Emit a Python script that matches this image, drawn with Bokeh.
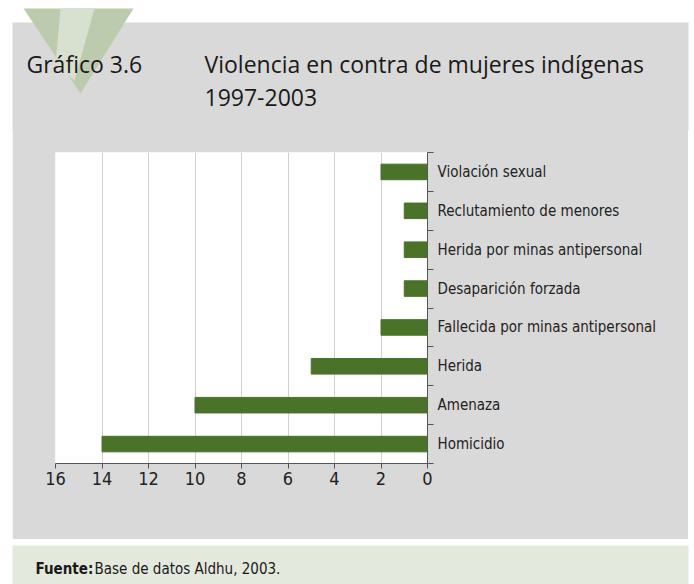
from bokeh.plotting import figure
from bokeh.layouts import column
from bokeh.models import Label, FixedTicker, LinearAxis, Range1d
from bokeh.embed import file_html
from bokeh.resources import INLINE

# ---- data ----
categories = ["Violación sexual", "Reclutamiento de menores",
              "Herida por minas antipersonal", "Desaparición forzada",
              "Fallecida por minas antipersonal", "Herida", "Amenaza", "Homicidio"]
values = [2, 1, 1, 1, 2, 5, 10, 14]
x_ticks = [0, 2, 4, 6, 8, 10, 12, 14, 16]

title_label = "Gráfico 3.6"
title_lines = ["Violencia en contra de mujeres indígenas", "1997-2003"]
source_bold = "Fuente:"
source_text = "Base de datos Aldhu, 2003."

n = len(categories)
ypos = [n - 0.5 - i for i in range(n)]

W = 694
GRAY = "#d9d9d9"
narrow = "DejaVu Sans Condensed"
tfont = "Open Sans"

def deco_fig(h, border):
    f = figure(width=W, height=h, output_backend="svg", toolbar_location=None,
               x_range=Range1d(0, W), y_range=Range1d(h, 0),
               x_axis_location=None, y_axis_location=None,
               min_border=0, background_fill_color="white",
               border_fill_color=border, outline_line_color=None,
               frame_align=False)
    f.xgrid.visible = False
    f.ygrid.visible = False
    return f

# ---- header ----
HH = 130
head = deco_fig(HH, GRAY)
head.quad(left=12, right=688, top=22, bottom=HH + 3, color=GRAY, line_color=None)
head.patch([23, 133, 80], [8, 8, 93], color="#bccbae", line_color=None)
head.patch([60, 94, 74, 55], [8, 8, 80, 64], color="#d8e0cf", line_color=None)
head.add_layout(Label(x=26, y=63, text=title_label, text_font=tfont,
                      text_font_size="23px", text_color="#1a1a1a",
                      text_baseline="alphabetic"))
head.add_layout(Label(x=204, y=63, text=title_lines[0], text_font=tfont,
                      text_font_size="23px", text_color="#1a1a1a",
                      text_baseline="alphabetic"))
head.add_layout(Label(x=204, y=97, text=title_lines[1], text_font=tfont,
                      text_font_size="23px", text_color="#1a1a1a",
                      text_baseline="alphabetic"))

# ---- chart (overlaps header by 2px to hide the seam) ----
CH = 411
p = figure(width=676, height=CH, output_backend="svg", toolbar_location=None,
           x_range=Range1d(16, 0), y_range=Range1d(0, n),
           y_axis_location=None, x_axis_location=None,
           min_border_left=43, min_border_right=261,
           min_border_top=24, min_border_bottom=76,
           background_fill_color="white", border_fill_color=GRAY,
           outline_line_color=None, margin=(-2, 6, 0, 12), frame_align=False)

p.hbar(y=ypos, right=values, left=0, height=0.4, color="#4a7229")

xaxis = LinearAxis(ticker=FixedTicker(ticks=x_ticks, minor_ticks=[]),
                   axis_line_color="#555555", major_tick_line_color="#555555",
                   major_tick_out=5, major_tick_in=0,
                   major_label_text_font=narrow, major_label_text_font_size="18px",
                   major_label_text_color="#222222", major_label_standoff=3)
p.add_layout(xaxis, "below")

overrides = {y: c for y, c in zip(ypos, categories)}
yaxis = LinearAxis(ticker=FixedTicker(ticks=ypos, minor_ticks=list(range(n + 1))),
                   major_label_overrides=overrides,
                   axis_line_color="#555555", major_tick_line_color=None,
                   major_tick_out=0, major_tick_in=0,
                   minor_tick_line_color="#555555", minor_tick_out=6, minor_tick_in=0,
                   major_label_text_font=narrow, major_label_text_font_size="15px",
                   major_label_text_color="#222222", major_label_standoff=4)
p.add_layout(yaxis, "right")

p.xgrid.ticker = FixedTicker(ticks=x_ticks)
p.xgrid.grid_line_color = "#d0d0d0"
p.ygrid.grid_line_color = None

# ---- footer ----
FH = 45
foot = deco_fig(FH, "white")
foot.quad(left=12, right=688, top=6, bottom=FH + 3, color="#e4e9de", line_color=None)
foot.add_layout(Label(x=35, y=29, text=source_bold, text_font=narrow,
                      text_font_style="bold", text_font_size="15px",
                      text_color="#1a1a1a", text_baseline="alphabetic"))
foot.add_layout(Label(x=94, y=29, text=source_text, text_font=narrow,
                      text_font_size="15px", text_color="#1a1a1a",
                      text_baseline="alphabetic"))

layout = column(head, p, foot, spacing=0)
open("out.html", "w").write(file_html(layout, INLINE))
